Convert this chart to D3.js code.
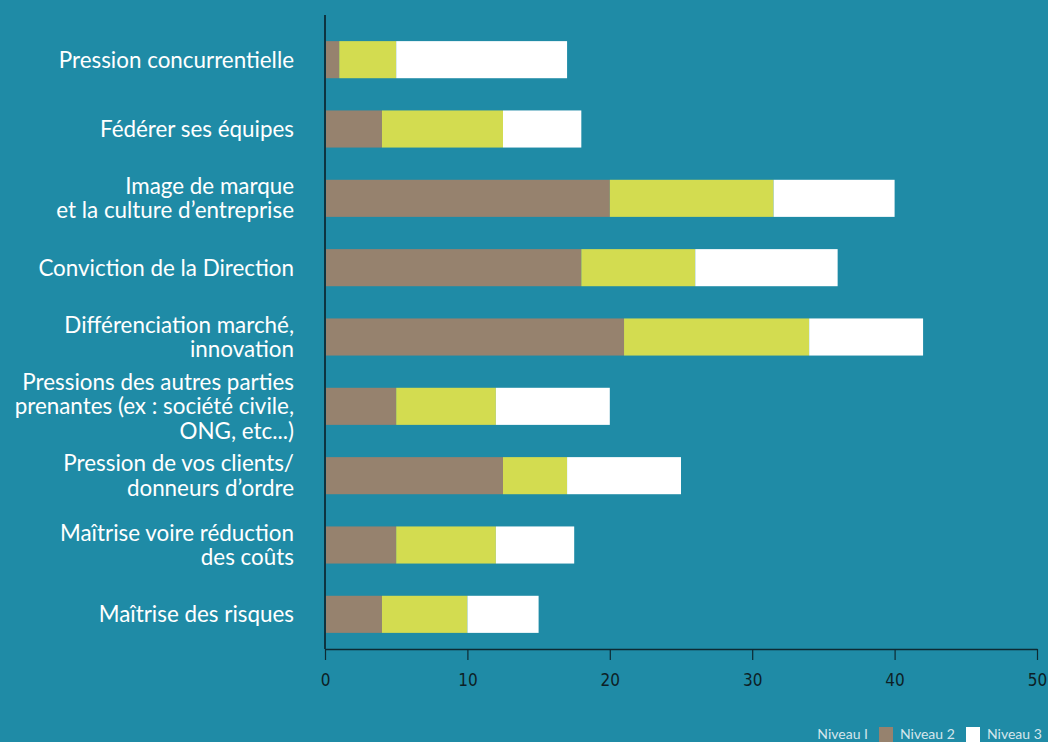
<!DOCTYPE html>
<html>
<head>
<meta charset="utf-8">
<script src="https://cdn.jsdelivr.net/npm/d3@7"></script>
<style>
  html, body { margin: 0; padding: 0; background: #1f8ba6; }
  svg { display: block; }
</style>
</head>
<body>
<svg id="chart" width="1048" height="742"></svg>
<script>
// Motivations, each split into three levels (stacked)
const categories = [
  ["Pression concurrentielle"],
  ["Fédérer ses équipes"],
  ["Image de marque", "et la culture d\u2019entreprise"],
  ["Conviction de la Direction"],
  ["Différenciation marché,", "innovation"],
  ["Pressions des autres parties", "prenantes (ex : société civile,", "ONG, etc...)"],
  ["Pression de vos clients/", "donneurs d\u2019ordre"],
  ["Maîtrise voire réduction", "des coûts"],
  ["Maîtrise des risques"]
];
const niveau1 = [1, 4, 20, 18, 21, 5, 12.5, 5, 4];
const niveau2 = [4, 8.5, 11.5, 8, 13, 7, 4.5, 7, 6];
const niveau3 = [12, 5.5, 8.5, 10, 8, 8, 8, 5.5, 5];
const xTicks = [0, 10, 20, 30, 40, 50];
const legendLabels = ["Niveau I", "Niveau 2", "Niveau 3"];
const colors = ["#96826e", "#d3dc50", "#ffffff"];

const svg = d3.select("#chart");
const W = 1048, H = 742;
svg.append("rect").attr("width", W).attr("height", H).attr("fill", "#1f8ba6");

const x = d3.scaleLinear().domain([0, 50]).range([325, 1037]);
const keys = categories.map((c, i) => i);
const y = d3.scaleBand().domain(keys).range([25, 649])
  .paddingInner(0.465).paddingOuter(0.2325);

const rows = keys.map(i => ({ i, n1: niveau1[i], n2: niveau2[i], n3: niveau3[i] }));
const stack = d3.stack().keys(["n1", "n2", "n3"])(rows);

svg.append("g").selectAll("g").data(stack).join("g")
  .attr("fill", (d, k) => colors[k])
  .selectAll("rect").data(d => d).join("rect")
  .attr("x", d => x(d[0]))
  .attr("width", d => x(d[1]) - x(d[0]))
  .attr("y", d => y(d.data.i))
  .attr("height", y.bandwidth());

// Category labels, right-aligned and centred on each bar
const lineH = 24.5;
const lab = svg.append("g")
  .attr("font-family", "Lato, 'Open Sans', sans-serif")
  .attr("font-size", 22.4)
  .attr("fill", "#ffffff")
  .attr("text-anchor", "end");
categories.forEach((lines, i) => {
  const cy = y(i) + y.bandwidth() / 2;
  const t = lab.append("text").attr("x", 294);
  lines.forEach((ln, j) => {
    t.append("tspan")
      .attr("x", 294)
      .attr("y", cy + (j - (lines.length - 1) / 2) * lineH)
      .attr("dy", "0.35em")
      .text(ln);
  });
});

// Vertical axis line
svg.append("line")
  .attr("x1", 325).attr("x2", 325)
  .attr("y1", 15).attr("y2", 649)
  .attr("stroke", "#0d3440").attr("stroke-width", 2);

// Bottom axis
const xAxis = svg.append("g")
  .attr("transform", "translate(0,649)")
  .call(d3.axisBottom(x).tickValues(xTicks).tickSize(11).tickSizeOuter(0).tickPadding(14));
xAxis.select(".domain").attr("stroke", "#0d2a33").attr("stroke-width", 1.5);
xAxis.selectAll(".tick line").attr("stroke", "#0d2a33").attr("stroke-width", 1.2);
xAxis.selectAll(".tick text")
  .attr("fill", "#0d1f26")
  .attr("font-family", "'DejaVu Sans Condensed', 'Open Sans', sans-serif")
  .attr("font-size", 17);

// Legend, bottom right
const leg = svg.append("g")
  .attr("font-family", "Lato, 'Open Sans', sans-serif")
  .attr("font-size", 14)
  .attr("fill", "#d5e6ec");
leg.append("text").attr("x", 868).attr("y", 739).attr("text-anchor", "end").text(legendLabels[0]);
leg.append("rect").attr("x", 879).attr("y", 727).attr("width", 14).attr("height", 15).attr("fill", colors[0]);
leg.append("text").attr("x", 900).attr("y", 739).text(legendLabels[1]);
leg.append("rect").attr("x", 966).attr("y", 727).attr("width", 14).attr("height", 15).attr("fill", colors[2]);
leg.append("text").attr("x", 987).attr("y", 739).text(legendLabels[2]);
</script>
</body>
</html>
